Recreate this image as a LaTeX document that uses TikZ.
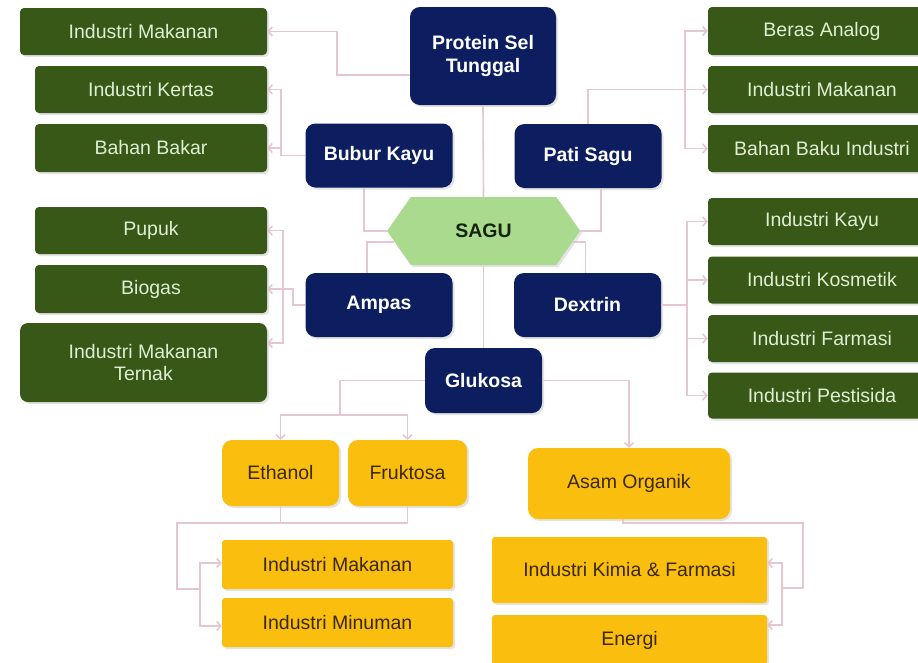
\documentclass[tikz,border=0pt]{standalone}
\usepackage{fontspec}
\setmainfont{Liberation Sans}
\usetikzlibrary{calc,shapes.symbols,shadows,arrows.meta}
\definecolor{navy}{RGB}{12,30,95}
\definecolor{dkgreen}{RGB}{56,88,24}
\definecolor{gtext}{RGB}{224,238,210}
\definecolor{ltgreen}{RGB}{170,218,142}
\definecolor{sagutext}{RGB}{20,36,12}
\definecolor{orng}{RGB}{250,190,15}
\definecolor{otext}{RGB}{58,40,0}
\definecolor{pinkline}{RGB}{230,198,212}
\begin{document}
\begin{tikzpicture}[x=1pt,y=-1pt,
  base/.style={inner sep=2pt, align=center, font=\fontsize{19.5}{22.5}\selectfont,
    drop shadow={opacity=0.22,shadow xshift=2pt,shadow yshift=-2pt}},
  gbox/.style={base, fill=dkgreen, text=gtext, rounded corners=4pt, minimum width=232, minimum height=47},
  nbox/.style={base, fill=navy, text=white, font=\fontsize{19.5}{22.5}\selectfont\bfseries,
    rounded corners=10pt, minimum width=147, minimum height=64},
  obox/.style={base, fill=orng, text=otext, rounded corners=10pt, minimum height=66},
  obar/.style={base, fill=orng, text=otext, rounded corners=3pt, minimum height=49},
  conn/.style={draw=pinkline, line width=1.6pt},
  arr/.style={conn, -{Straight Barb[length=4pt,width=9pt]}},
]
\clip (0,0) rectangle (918,662);
\fill[white] (0,0) rectangle (918,662);

% left green
\node[gbox, minimum width=247] (lg1) at (143.5,31.5) {Industri Makanan};
\node[gbox] (lg2) at (151,89.5) {Industri Kertas};
\node[gbox, minimum height=48] (lg3) at (151,148) {Bahan Bakar};
\node[gbox] (lg4) at (151,230.5) {Pupuk};
\node[gbox, minimum height=48] (lg5) at (151,289) {Biogas};
\node[gbox, minimum width=247, minimum height=79, rounded corners=8pt] (lg6) at (143.5,362.5) {Industri Makanan\\Ternak};

% right green
\node[gbox, minimum width=228, minimum height=48] (rg1) at (822,31) {Beras Analog};
\node[gbox, minimum width=228] (rg2) at (822,89.5) {Industri Makanan};
\node[gbox, minimum width=228] (rg3) at (822,148.5) {Bahan Baku Industri};
\node[gbox, minimum width=228] (rg4) at (822,221.5) {Industri Kayu};
\node[gbox, minimum width=228] (rg5) at (822,280) {Industri Kosmetik};
\node[gbox, minimum width=228] (rg6) at (822,338.5) {Industri Farmasi};
\node[gbox, minimum width=228, minimum height=46] (rg7) at (822,395.5) {Industri Pestisida};

% navy
\node[nbox, minimum width=146, minimum height=98] (pst) at (483,56) {Protein Sel\\Tunggal};
\node[nbox] (bubur) at (379,155.5) {Bubur Kayu};
\node[nbox] (pati) at (588,156) {Pati Sagu};
\node[nbox] (ampas) at (379,305) {Ampas};
\node[nbox] (dextrin) at (587.5,305) {Dextrin};
\node[nbox, minimum width=117, minimum height=65] (glukosa) at (483.5,380.5) {Glukosa};

% SAGU
\node[signal, signal to=east and west, signal pointer angle=110, fill=ltgreen, text=sagutext,
  font=\fontsize{19.5}{22.5}\selectfont\bfseries, minimum width=193, minimum height=68, inner sep=0pt,
  drop shadow={opacity=0.22,shadow xshift=2pt,shadow yshift=-2pt}] (sagu) at (483.5,231) {SAGU};

% orange
\node[obox, minimum width=117] (eth) at (280.5,473) {Ethanol};
\node[obox, minimum width=119] (fru) at (407.5,473) {Fruktosa};
\node[obar, minimum width=231] (om1) at (337.5,564.5) {Industri Makanan};
\node[obar, minimum width=231] (om2) at (337.5,622.5) {Industri Minuman};
\node[obox, minimum width=202, minimum height=71] (asam) at (629,483.5) {Asam Organik};
\node[obar, minimum width=275, minimum height=66] (kimia) at (629.5,570) {Industri Kimia \& Farmasi};
\node[obar, minimum width=275, minimum height=50] (energi) at (629.5,640) {Energi};

% connectors
\draw[arr] ($(pst.west)+(0,19)$) -| (337,31.5) -- (lg1.east);
\draw[arr] (bubur.west) -| (281,89.5) -- (lg2.east);
\draw[arr] (bubur.west) -| (281,148) -- (lg3.east);
\draw[conn] (pst.south) -- (sagu.north);
\draw[conn] (sagu.south) -- (glukosa.north);
\draw[conn] ($(bubur.south)+(-15,0)$) |- (sagu.west);
\draw[conn] ($(pati.south)+(13,0)$) |- (sagu.east);
\draw[arr] (pati.north) |- (rg2.west);
\draw[arr] (pati.north) |- (685,89.5) |- (rg1.west);
\draw[arr] (pati.north) |- (685,89.5) |- (rg3.west);
\draw[conn] ($(ampas.north)+(-12,0)$) |- (sagu.187);
\draw[conn] ($(dextrin.north)+(-2,0)$) |- (sagu.353);
\draw[arr] (ampas.west) -| (293,289) -- (lg5.east);
\draw[arr] (ampas.west) -| (293,289) -| (283,230.5) -- (lg4.east);
\draw[arr] (ampas.west) -| (293,289) -| (283,343) -- ($(lg6.east)+(0,-19.5)$);
\draw[arr] (dextrin.east) -| (687,221.5) -- (rg4.west);
\draw[arr] (dextrin.east) -| (687,280) -- (rg5.west);
\draw[arr] (dextrin.east) -| (687,338.5) -- (rg6.west);
\draw[arr] (dextrin.east) -| (687,395.5) -- (rg7.west);
\draw[arr] (glukosa.west) -| (340,415) -| (eth.north);
\draw[arr] (glukosa.west) -| (340,415) -| (fru.north);
\draw[arr] (glukosa.east) -| (asam.north);
\coordinate (ej) at (177,523);
\draw[conn] (eth.south) -- (eth.south |- ej);
\draw[arr] (fru.south) |- (ej) |- (200,589) |- ($(om1.west)+(0,-1.5)$);
\draw[arr] (fru.south) |- (ej) |- (200,589) |- ($(om2.west)+(0,3.5)$);
\draw[arr] ($(asam.south)+(-6,0)$) |- (803,523) |- (782,588) |- ($(kimia.east)+(0,-7)$);
\draw[arr] ($(asam.south)+(-6,0)$) |- (803,523) |- (782,588) |- ($(energi.east)+(0,-15)$);
\end{tikzpicture}
\end{document}
